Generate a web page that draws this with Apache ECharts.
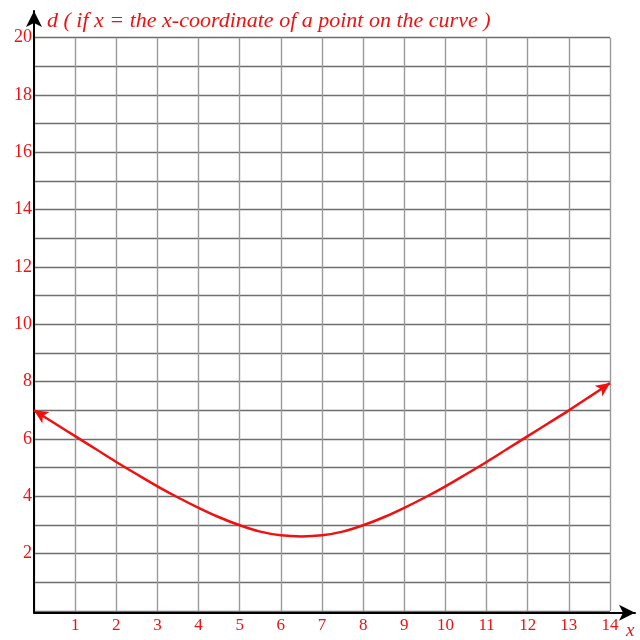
<!DOCTYPE html>
<html>
<head>
<meta charset="utf-8">
<script src="https://cdn.jsdelivr.net/npm/echarts@6/dist/echarts.min.js"></script>
<style>
  html, body { margin: 0; padding: 0; background: #fff; }
  #main { width: 640px; height: 640px; }
</style>
</head>
<body>
<div id="main"></div>
<script>
// x positions along the curve and the distance d
const xs = [0, 0.5, 1, 1.5, 2, 2.5, 3, 3.5, 4, 4.5, 5, 5.5, 6, 6.5, 7,
            7.5, 8, 8.5, 9, 9.5, 10, 10.5, 11, 11.5, 12, 12.5, 13, 13.5, 14];
const ds = [7.0, 6.55, 6.1, 5.65, 5.2, 4.77, 4.35, 3.96, 3.6, 3.27, 2.99, 2.77, 2.64, 2.6, 2.64,
            2.77, 2.99, 3.27, 3.6, 3.96, 4.35, 4.77, 5.2, 5.65, 6.1, 6.55, 7.0, 7.47, 7.95];
const yLabels = [2, 4, 6, 8, 10, 12, 14, 16, 18, 20];
const xLabels = [1, 2, 3, 4, 5, 6, 7, 8, 9, 10, 11, 12, 13, 14];
const titleText = "d ( if x = the x-coordinate of a point on the curve )";

const red = "#f01010";
const serif = "Liberation Serif";

const curve = xs.map(function (x, i) {
  const item = { value: [x, ds[i]] };
  if (i === 0) {
    item.symbol = "arrow";
    item.symbolSize = [10, 14];
    item.symbolRotate = 58;
  } else if (i === xs.length - 1) {
    item.symbol = "arrow";
    item.symbolSize = [10, 14];
    item.symbolRotate = -55;
  }
  return item;
});

var myChart = echarts.init(document.getElementById("main"));
var option = {
  animation: false,
  title: {
    text: titleText,
    left: 42,
    top: 5,
    textStyle: { color: red, fontFamily: serif, fontStyle: "italic", fontWeight: "normal", fontSize: 22 }
  },
  grid: [
    { left: 34, right: 30, top: 37.7, bottom: 27.3 },
    { left: 34, right: 5, top: 11, bottom: 27.3 }
  ],
  xAxis: [
    {
      type: "value", gridIndex: 0, min: 0, max: 14, interval: 1,
      axisLine: { show: false },
      axisTick: { show: false },
      axisLabel: {
        color: red, fontFamily: serif, fontSize: 17, margin: 6,
        formatter: function (v) { return xLabels.indexOf(v) >= 0 ? String(v) : ""; }
      },
      splitLine: { show: true, lineStyle: { color: "#9a9a9a", width: 1.4 } },
      name: "x",
      nameLocation: "end",
      nameGap: 16,
      nameTextStyle: { color: red, fontFamily: serif, fontStyle: "italic", fontSize: 19, verticalAlign: "top", padding: [10, 0, 0, 0] }
    },
    {
      type: "value", gridIndex: 1, min: 0, max: 1,
      axisLine: { show: true, symbol: ["none", "arrow"], symbolSize: [12, 16], lineStyle: { color: "#000", width: 2 } },
      axisTick: { show: false }, axisLabel: { show: false }, splitLine: { show: false }
    }
  ],
  yAxis: [
    {
      type: "value", gridIndex: 0, min: 0, max: 20, interval: 1,
      axisLine: { show: false },
      axisTick: { show: false },
      axisLabel: {
        color: red, fontFamily: serif, fontSize: 18, margin: 2,
        formatter: function (v) { return yLabels.indexOf(v) >= 0 ? String(v) : ""; }
      },
      splitLine: { show: true, lineStyle: { color: "#6e6e6e", width: 1.4 } }
    },
    {
      type: "value", gridIndex: 1, min: 0, max: 1,
      axisLine: { show: true, symbol: ["none", "arrow"], symbolSize: [12, 16], lineStyle: { color: "#000", width: 2 } },
      axisTick: { show: false }, axisLabel: { show: false }, splitLine: { show: false }
    }
  ],
  series: [
    {
      type: "line",
      xAxisIndex: 0,
      yAxisIndex: 0,
      smooth: 0.35,
      symbol: "none",
      showSymbol: true,
      clip: false,
      lineStyle: { color: red, width: 2.5 },
      itemStyle: { color: red },
      data: curve
    }
  ]
};
myChart.setOption(option);
</script>
</body>
</html>
